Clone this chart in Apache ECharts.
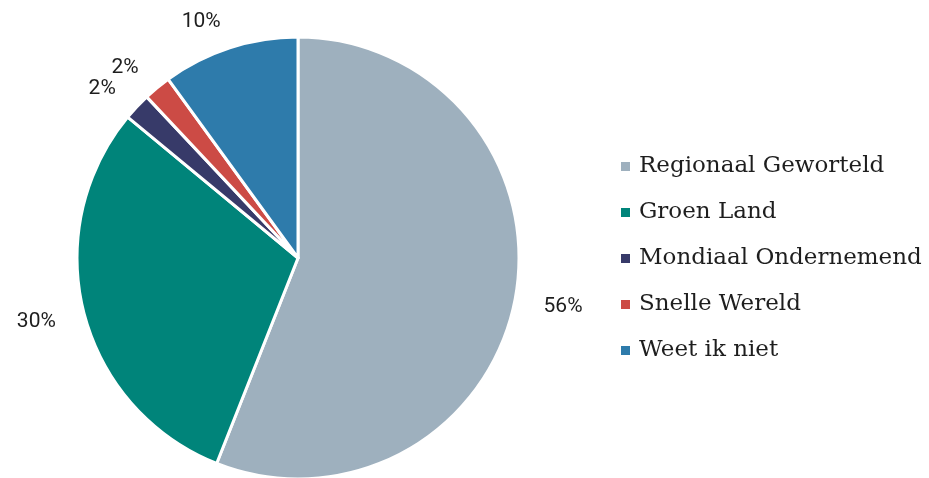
<!DOCTYPE html>
<html><head><meta charset="utf-8">
<script src="https://cdn.jsdelivr.net/npm/echarts@6/dist/echarts.min.js"></script>
<style>html,body{margin:0;padding:0;background:#fff}#c{width:929px;height:478px}</style>
</head><body><div id="c"></div>
<script>
const categories = ['Regionaal Geworteld','Groen Land','Mondiaal Ondernemend','Snelle Wereld','Weet ik niet'];
const values = [56, 30, 2, 2, 10];
const colors = ['#9eb0be','#00847a','#373a69','#cc4b45','#2e7bab'];

const chart = echarts.init(document.getElementById('c'));
chart.setOption({
  animation: false,
  color: colors,
  legend: {
    orient: 'vertical', left: 614, top: 150,
    itemWidth: 11, itemHeight: 11, itemGap: 23, icon: 'rect',
    textStyle: { fontFamily: 'DejaVu Serif', fontSize: 23, color: '#1e1e1e', padding: [0, 0, 0, 3] },
    data: categories
  },
  series: [{
    type: 'pie', center: [298, 258], radius: [0, 221],
    startAngle: 90, clockwise: true, avoidLabelOverlap: false,
    label: {
      show: true, position: 'outside', distanceToLabelLine: 0, offset: [0, 2],
      formatter: p => p.value + '%', fontFamily: 'Roboto', fontSize: 21, color: '#1e1e1e'
    },
    labelLine: { show: false, length: 29, length2: 0 },
    itemStyle: { borderColor: '#fff', borderWidth: 3 },
    emphasis: { disabled: true },
    data: categories.map((c, i) => ({ name: c, value: values[i] }))
  }]
});
</script></body></html>
